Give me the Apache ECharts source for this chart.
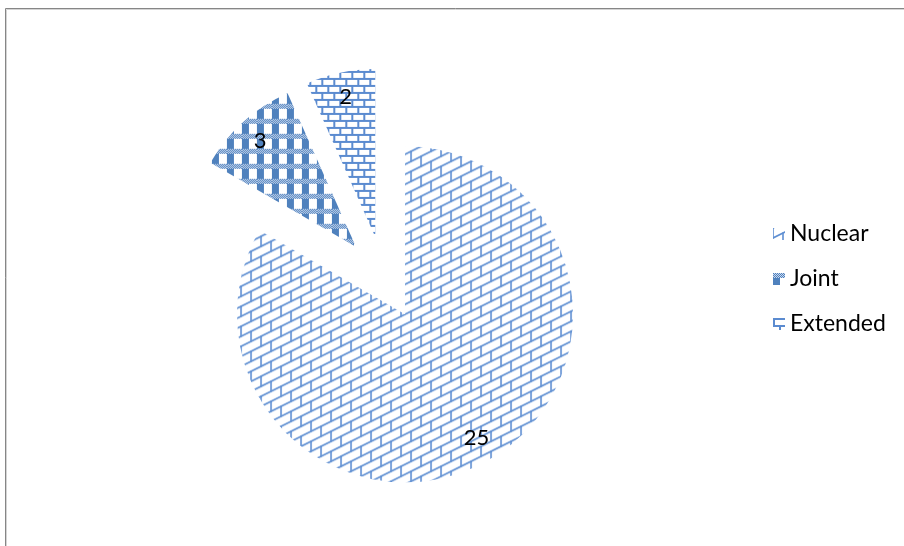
<!DOCTYPE html>
<html>
<head>
<meta charset="utf-8">
<script src="https://cdn.jsdelivr.net/npm/echarts@6/dist/echarts.min.js"></script>
<style>
  html, body { margin: 0; padding: 0; background: #fff; }
  #chart { width: 904px; height: 546px; }
</style>
</head>
<body>
<div id="chart"></div>
<script>
// Share of each type
const categories = ['Nuclear', 'Joint', 'Extended'];
const values = [25, 3, 2];

function makeTile(w, h) {
  const c = document.createElement('canvas');
  c.width = w; c.height = h;
  return c;
}

// Diagonal brick hatch: rising rows of bricks
function diagonalBrick() {
  const W = 40, H = 20, c = makeTile(W, H), g = c.getContext('2d');
  g.fillStyle = '#fff'; g.fillRect(0, 0, W, H);
  g.strokeStyle = '#5f8fd2'; g.lineWidth = 1.6; g.lineCap = 'round';
  for (let k = -8; k <= 10; k++) {
    const c0 = k * 10;
    g.beginPath(); g.moveTo(-40, c0 + 20); g.lineTo(80, c0 - 40); g.stroke();
  }
  for (let k = -8; k <= 10; k++) {
    const c0 = k * 10;
    const x0 = (((k % 2) + 2) % 2) * 10;
    for (let x = x0 - 40; x <= W + 40; x += 20) {
      const y = c0 - 0.5 * x;
      g.beginPath(); g.moveTo(x, y); g.lineTo(x, y + 10); g.stroke();
    }
  }
  return c;
}

// Plaid: solid columns crossed by fine checker bands
function plaid() {
  const W = 15, H = 15, c = makeTile(W, H), g = c.getContext('2d');
  g.fillStyle = '#fff'; g.fillRect(0, 0, W, H);
  for (let y = 0; y < H; y++) {
    for (let x = 0; x < W; x++) {
      if (y < 5) {
        g.fillStyle = ((x + y) % 2 === 0) ? '#4f81bd' : '#c9d8ee';
        g.fillRect(x, y, 1, 1);
      } else if (x < 7) {
        g.fillStyle = '#4f81bd';
        g.fillRect(x, y, 1, 1);
      }
    }
  }
  return c;
}

// Horizontal brick hatch
function horizontalBrick() {
  const W = 12, H = 14, c = makeTile(W, H), g = c.getContext('2d');
  g.fillStyle = '#fff'; g.fillRect(0, 0, W, H);
  g.fillStyle = '#5b8bd0';
  g.fillRect(0, 0, W, 2);
  g.fillRect(0, 7, W, 2);
  g.fillRect(0, 0, 2, 7);
  g.fillRect(6, 7, 2, 7);
  return c;
}

const fills = [diagonalBrick(), plaid(), horizontalBrick()];
const FONT = 'Lato, "Open Sans", sans-serif';
const CENTER = [384, 278];
const R = 168;
const EXPLODE = 42;

const chart = echarts.init(document.getElementById('chart'), null, { renderer: 'canvas' });

chart.setOption({
  animation: false,
  backgroundColor: '#fff',
  graphic: [
    { type: 'rect', shape: { x: 5.5, y: 8.5, width: 1000, height: 1000 },
      style: { fill: 'none', stroke: '#868686', lineWidth: 1 }, silent: true },
    { type: 'rect', shape: { x: 6.5, y: 9.5, width: 1000, height: 1000 },
      style: { fill: 'none', stroke: '#d4d4d4', lineWidth: 1 }, silent: true }
  ],
  legend: {
    orient: 'vertical',
    left: 773,
    top: 222,
    padding: 0,
    icon: 'rect',
    itemWidth: 12,
    itemHeight: 12,
    itemGap: 21,
    data: categories,
    selectedMode: false,
    textStyle: { fontFamily: FONT, fontSize: 23, color: '#000', lineHeight: 24 }
  },
  series: [
    {
      type: 'pie',
      center: CENTER,
      radius: [0, R],
      startAngle: 90,
      clockwise: true,
      selectedMode: 'multiple',
      selectedOffset: EXPLODE,
      label: { show: false },
      labelLine: { show: false },
      emphasis: { disabled: true },
      select: { itemStyle: { borderWidth: 0 } },
      itemStyle: { borderWidth: 0 },
      data: categories.map((name, i) => ({
        name, value: values[i], selected: true,
        itemStyle: { color: { image: fills[i], repeat: 'repeat' } }
      }))
    },
    {
      // value labels placed along each exploded slice
      type: 'pie',
      center: CENTER,
      radius: [0, 280],
      startAngle: 90,
      clockwise: true,
      selectedMode: 'multiple',
      selectedOffset: EXPLODE,
      silent: true,
      z: 3,
      itemStyle: { color: 'rgba(0,0,0,0)', borderWidth: 0 },
      select: { itemStyle: { color: 'rgba(0,0,0,0)', borderWidth: 0 } },
      emphasis: { disabled: true },
      labelLine: { show: false },
      label: {
        show: true, position: 'inside', rotate: 0, formatter: '{c}',
        color: '#000', fontFamily: FONT, fontSize: 22
      },
      data: categories.map((name, i) => ({ name, value: values[i], selected: true }))
    }
  ]
});
</script>
</body>
</html>
